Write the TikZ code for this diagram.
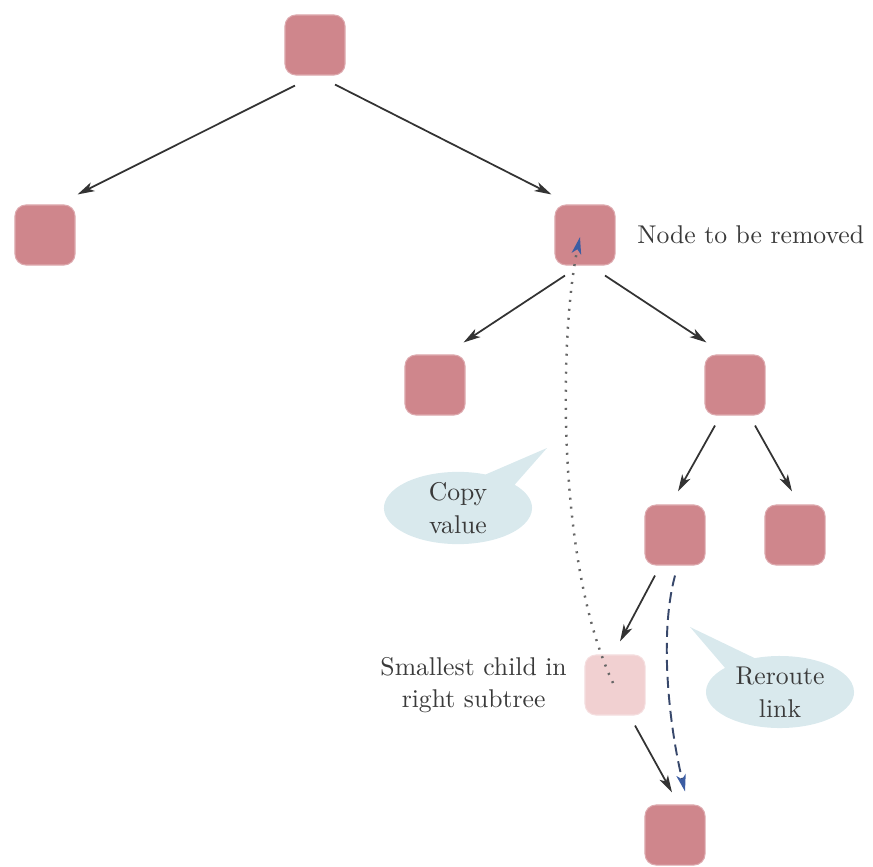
\documentclass[tikz,border=0pt]{standalone}
\usepackage{fontspec}
\setmainfont{lmroman10-regular}[Extension=.otf]
\usepackage{tikz}
\usepackage{xcolor}
\usetikzlibrary{arrows.meta, positioning, shapes.callouts}
\definecolor{bstPink}{HTML}{CF868C}
\definecolor{bstPale}{HTML}{F1D0D1}
\definecolor{bstCloud}{HTML}{D9E9ED}
\definecolor{bstLine}{HTML}{333333}
\definecolor{bstBlue}{HTML}{3C5DA3}
\definecolor{bstText}{HTML}{3A3A3A}

\begin{document}
\begin{tikzpicture}[x=0.01cm,y=-0.01cm,
  treenode/.style={rectangle,rounded corners=0.11cm,minimum size=0.6cm,inner sep=0pt,fill=bstPink,draw=bstPink!70!white,line width=0.3pt},
  palenode/.style={treenode,fill=bstPale,draw=bstPale!70!white},
  edge/.style={bstLine,line width=0.5pt,-{Stealth[length=1.7mm,width=0.95mm,inset=0.45mm]}},
  label/.style={font=\fontsize{7.3}{9.3}\selectfont,text=bstText,inner sep=0pt,align=center},
  cloud/.style={ellipse callout,fill=bstCloud,draw=none,minimum width=1.48cm,minimum height=0.72cm,inner sep=0pt,callout pointer arc=28,label}]
\useasboundingbox (0,0) rectangle (873,867);

% the tree
\node[treenode] (root) at (315,45) {};
\node[treenode] (left) at (45,235) {};
\node[treenode] (removed) at (585,235) {};
\node[treenode] (rl) at (435,385) {};
\node[treenode] (rr) at (735,385) {};
\node[treenode] (rrl) at (675,535) {};
\node[treenode] (rrr) at (795,535) {};
\node[palenode] (smallest) at (615,685) {};
\node[treenode] (bottom) at (675,835) {};

\draw[edge] ([shift={(-0.2cm,-0.1cm)}]root.south) -- ([shift={(0.02cm,0.1cm)}]left.north east);
\draw[edge] ([shift={(0.2cm,-0.09cm)}]root.south) -- ([shift={(-0.03cm,0.1cm)}]removed.north west);
\draw[edge] ([shift={(-0.2cm,-0.1cm)}]removed.south) -- ([shift={(-0.02cm,0.12cm)}]rl.north east);
\draw[edge] ([shift={(0.2cm,-0.1cm)}]removed.south) -- ([shift={(0.02cm,0.12cm)}]rr.north west);
\draw[edge] ([shift={(-0.2cm,-0.1cm)}]rr.south) -- ([shift={(0.03cm,0.13cm)}]rrl.north);
\draw[edge] ([shift={(0.2cm,-0.1cm)}]rr.south) -- ([shift={(-0.03cm,0.13cm)}]rrr.north);
\draw[edge] ([shift={(-0.2cm,-0.1cm)}]rrl.south) -- ([shift={(0.05cm,0.13cm)}]smallest.north);
\draw[edge] ([shift={(0.2cm,-0.1cm)}]smallest.south) -- ([shift={(-0.03cm,0.12cm)}]bottom.north);

% copy value / reroute link
\draw[gray!80!black,line width=0.7pt,dash pattern=on 0.2mm off 0.7mm,
  -{Stealth[length=1.7mm,width=0.95mm,inset=0.45mm,color=bstBlue]}]
  ([shift={(-0.02cm,0.02cm)}]smallest.center) .. controls (555,560) and (560,330) .. ([shift={(-0.05cm,-0.02cm)}]removed.center);
\draw[bstBlue!50!bstLine,line width=0.55pt,dash pattern=on 1.1mm off 0.6mm,
  -{Stealth[length=1.7mm,width=0.95mm,inset=0.45mm,color=bstBlue]}]
  ([shift={(0cm,-0.1cm)}]rrl.south) .. controls (659,635) and (669,725) .. ([shift={(0.1cm,0.13cm)}]bottom.north);

% labels
\node[label,anchor=west,right=0.21cm of removed] (remtext) {Node to be removed};
\node[label,anchor=east,left=0.17cm of smallest] (smalltext) {Smallest child in\\right subtree};
\coordinate (copytip) at (547,448);
\coordinate (reroutetip) at (690,627);
\node[cloud,callout absolute pointer=(copytip)] (copy) at (458,508) {Copy\\value};
\node[cloud,callout absolute pointer=(reroutetip)] (reroute) at (780,692) {Reroute\\link};
\end{tikzpicture}
\end{document}
